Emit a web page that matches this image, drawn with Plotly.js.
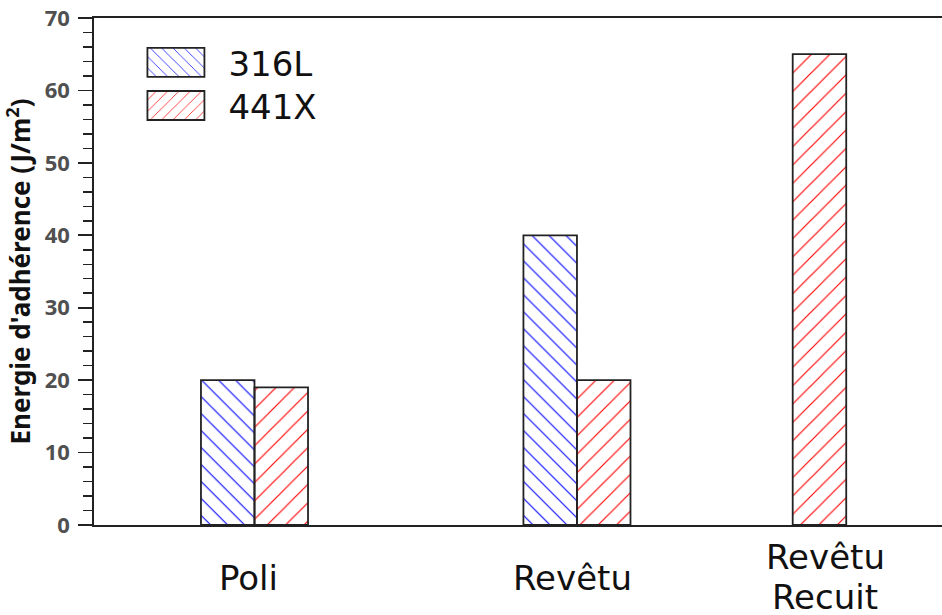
<!DOCTYPE html>
<html>
<head>
<meta charset="utf-8">
<script src="https://cdn.plot.ly/plotly-3.0.1.min.js"></script>
<style>html,body{margin:0;padding:0;background:#fff;}</style>
</head>
<body>
<div id="chart" style="width:942px;height:615px;"></div>
<script>
// ---- data ----
const categories = ['Poli', 'Revêtu', 'Revêtu<br>Recuit'];
const series316L = [20, 40, null];
const series441X = [19, 20, 65];
const seriesNames = ['316L', '441X'];
const yTickVals = [0, 10, 20, 30, 40, 50, 60, 70];

// ---- layout constants (positions on the x axis) ----
const groupCenters = [0, 1, 1.669];
const labelCenters = [-0.019, 0.985, 1.77];
const barW = 0.166;

const traces = [
  {
    type: 'bar', name: seriesNames[0], x: groupCenters, y: series316L,
    width: barW, offset: -barW,
    marker: {color: '#ffffff', line: {color: '#222', width: 1.8},
      pattern: {shape: '\\', fgcolor: '#0000ff', size: 12, solidity: 0.09, fillmode: 'replace'}}
  },
  {
    type: 'bar', name: seriesNames[1], x: groupCenters, y: series441X,
    width: barW, offset: 0,
    marker: {color: '#ffffff', line: {color: '#222', width: 1.8},
      pattern: {shape: '/', fgcolor: '#ff0000', size: 13, solidity: 0.09, fillmode: 'replace'}}
  }
];

const annotations = [];
categories.forEach((cat, i) => {
  const lines = cat.split('<br>');
  lines.forEach((ln, j) => {
    annotations.push({
      x: labelCenters[i], xref: 'x', y: 0, yref: 'paper',
      text: ln, showarrow: false, xanchor: 'center', yanchor: 'middle',
      yshift: -(53 + (j - (lines.length - 1) / 2) * 40) + (lines.length > 1 ? 1 : 0),
      font: {family: 'DejaVu Sans', size: 34, color: '#111'}
    });
  });
});

const layout = {
  width: 942, height: 615,
  margin: {l: 94, r: 0, t: 17.5, b: 90},
  paper_bgcolor: '#ffffff', plot_bgcolor: '#ffffff',
  barmode: 'overlay',
  showlegend: true,
  legend: {
    x: 0.0347, y: 0.969, xanchor: 'left', yanchor: 'top',
    bgcolor: 'rgba(0,0,0,0)', itemwidth: 95,
    font: {family: 'DejaVu Sans', size: 34, color: '#111'},
    traceorder: 'normal'
  },
  xaxis: {
    range: [-0.4977, 2.132], showgrid: false, zeroline: false,
    showline: true, linecolor: '#222', linewidth: 1.8, mirror: true,
    ticks: '', showticklabels: false
  },
  yaxis: {
    range: [0, 70], showgrid: false, zeroline: false,
    showline: true, linecolor: '#222', linewidth: 1.8,
    tickvals: yTickVals, ticks: 'outside', ticklen: 14, tickwidth: 1.8, tickcolor: '#222',
    minor: {dtick: 2, ticks: 'outside', ticklen: 9, tickwidth: 1.5, tickcolor: '#222'},
    tickfont: {family: 'Noto Sans', size: 22, color: '#505050', weight: 'bold'},
    ticklabelstandoff: 4,
    title: {text: "Energie d'adhérence (J/m<sup>2</sup>)", standoff: 9,
      font: {family: 'Noto Sans', size: 26, color: '#111', weight: 'bold'}}
  },
  annotations: annotations
};

Plotly.newPlot('chart', traces, layout, {displayModeBar: false, staticPlot: true}).then(() => {
  document.querySelectorAll('.legend .legendpoints path').forEach(p => {
    p.setAttribute('d', 'M28.5,14.5H-28.5V-14.5H28.5Z');
  });
  document.querySelectorAll('.legend .traces').forEach((g, idx) => {
    const t = g.getAttribute('transform') || '';
    const m = t.match(/translate\(\s*([-\d.e]+)[ ,]+([-\d.e]+)\s*\)/);
    if (m && idx > 0) {
      g.setAttribute('transform', 'translate(' + m[1] + ',' + (parseFloat(m[2]) - 4 * idx) + ')');
    }
  });
});
</script>
</body>
</html>
